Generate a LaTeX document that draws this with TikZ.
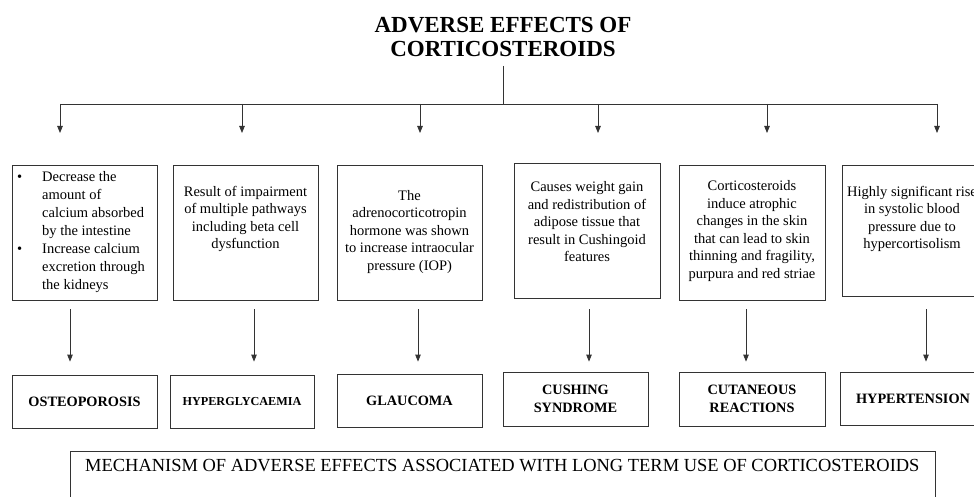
\documentclass[tikz,border=0pt]{standalone}
\usepackage{fontspec}
\setmainfont{Liberation Serif}
\usetikzlibrary{arrows.meta,calc}
\begin{document}
\begin{tikzpicture}[x=1pt,y=-1pt,
  ln/.style={draw=black!80, line width=0.8pt},
  arr/.style={ln, -{Triangle[length=7pt,width=5.5pt]}},
  bx/.style={draw=black!80, line width=0.8pt, inner sep=0pt},
  txt/.style={inner sep=0pt, align=center, font=\fontsize{14.5}{17.5}\selectfont},
  lab/.style={inner sep=0pt, align=center, font=\fontsize{14.3}{18}\selectfont\bfseries}]
\useasboundingbox (0,0) rectangle (974,497);
\fill[white] (0,0) rectangle (974,497);
\clip (0,0) rectangle (974,497);

% title
\node[inner sep=0pt, align=center, font=\fontsize{23}{24}\selectfont\bfseries] (title) at (503,37)
  {ADVERSE EFFECTS OF\\CORTICOSTEROIDS};
\coordinate (stem) at (503,66);
\coordinate (a1) at (60,104);
\coordinate (a2) at (242,104);
\coordinate (a3) at (420,104);
\coordinate (a4) at (598,104);
\coordinate (a5) at (767,104);
\coordinate (a6) at (937,104);
\draw[ln] (stem) -- (stem |- a1);
\draw[ln] (a1) -- (a6);
\foreach \i in {1,...,6} {
  \coordinate (e\i) at ($(a\i)+(0,29)$);
}

% top boxes
\node[bx, minimum width=145pt, minimum height=135pt] (t1) at (84.5,232.5) {};
\node[bx, minimum width=145pt, minimum height=135pt] (t2) at (245.5,232.5) {};
\node[bx, minimum width=145pt, minimum height=135pt] (t3) at (409.5,232.5) {};
\node[bx, minimum width=146pt, minimum height=135pt] (t4) at (587,230.5) {};
\node[bx, minimum width=146pt, minimum height=135pt] (t5) at (752,232.5) {};
\node[bx, minimum width=145pt, minimum height=131pt] (t6) at (914.5,230.5) {};

\node[inner sep=0pt, anchor=west, font=\fontsize{14.5}{18}\selectfont] (t1x) at (17,232)
 {\begin{tabular}{@{}p{25pt}@{}l@{}}
 \textbullet & Decrease the\\
  & amount of\\
  & calcium absorbed\\
  & by the intestine\\
 \textbullet & Increase calcium\\
  & excretion through\\
  & the kidneys
 \end{tabular}};
\node[txt] (t2x) at (245.5,219) {Result of impairment\\of multiple pathways\\including beta cell\\dysfunction};
\node[txt] (t3x) at (409.5,232) {The\\adrenocorticotropin\\hormone was shown\\to increase intraocular\\pressure (IOP)};
\node[txt] (t4x) at (587,222) {Causes weight gain\\and redistribution of\\adipose tissue that\\result in Cushingoid\\features};
\node[txt] (t5x) at (752,231) {Corticosteroids\\induce atrophic\\changes in the skin\\that can lead to skin\\thinning and fragility,\\purpura and red striae};
\node[txt] (t6x) at (912,219) {Highly significant rise\\in systolic blood\\pressure due to\\hypercortisolism};

% bottom boxes
\node[bx, minimum width=145pt, minimum height=53pt, lab] (b1) at (84.5,401.5) {OSTEOPOROSIS};
\node[bx, minimum width=144pt, minimum height=53pt, lab, font=\fontsize{12.2}{15}\selectfont\bfseries] (b2) at (242,401.5) {HYPERGLYCAEMIA};
\node[bx, minimum width=145pt, minimum height=53pt, lab] (b3) at (409.5,400.5) {GLAUCOMA};
\node[bx, minimum width=145pt, minimum height=54pt, lab] (b4) at (575.5,399) {CUSHING\\SYNDROME};
\node[bx, minimum width=146pt, minimum height=54pt, lab] (b5) at (752,399) {CUTANEOUS\\REACTIONS};
\node[bx, minimum width=145pt, minimum height=53pt, lab] (b6) at (913,398.5) {HYPERTENSION};

% top arrows
\foreach \i in {1,...,6} {
  \draw[arr] (a\i) -- (e\i);
}

% middle arrows
\draw[arr, shorten <=9pt, shorten >=13pt] (t1.south -| 70,0) -- (b1.north -| 70,0);
\draw[arr, shorten <=9pt, shorten >=13pt] (t2.south -| 254,0) -- (b2.north -| 254,0);
\draw[arr, shorten <=9pt, shorten >=12pt] (t3.south -| 418,0) -- (b3.north -| 418,0);
\draw[arr, shorten <=11pt, shorten >=10pt] (t4.south -| 589,0) -- (b4.north -| 589,0);
\draw[arr, shorten <=9pt, shorten >=10pt] (t5.south -| 746,0) -- (b5.north -| 746,0);
\draw[arr, shorten <=13pt, shorten >=10pt] (t6.south -| 926,0) -- (b6.north -| 926,0);

% caption
\node[bx, minimum width=865pt, minimum height=69pt] (cap) at (502.5,485.5) {};
\node[inner sep=0pt, anchor=west, font=\fontsize{18.45}{20}\selectfont] (capx) at (85,466)
  {MECHANISM OF ADVERSE EFFECTS ASSOCIATED WITH LONG TERM USE OF CORTICOSTEROIDS};
\end{tikzpicture}
\end{document}
